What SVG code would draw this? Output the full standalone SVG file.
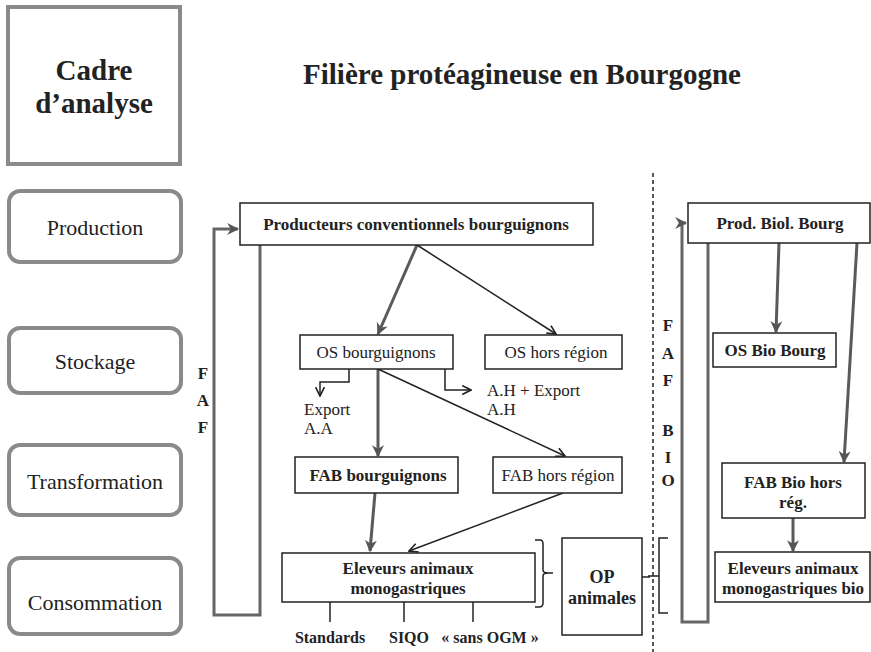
<svg xmlns="http://www.w3.org/2000/svg" width="871" height="652" viewBox="0 0 871 652">
<style>
.b{font-weight:bold}
.frame{fill:#fff;stroke:#8a8a8a;stroke-width:4}
.box{fill:#fff;stroke:#222;stroke-width:1.5}
.thick{stroke:#5a5a5a;stroke-width:3;fill:none}
.thin{stroke:#222;stroke-width:1.5;fill:none}
.loop{stroke:#666;stroke-width:3;fill:none}
.c{text-anchor:middle}
.t{font-family:'Liberation Serif',serif;fill:#222}
</style>
<defs>
<marker id="ag" viewBox="0 0 10 10" refX="9" refY="5" markerWidth="12" markerHeight="12" markerUnits="userSpaceOnUse" orient="auto">
<path d="M0,0 L10,5 L0,10 L3,5 z" fill="#555"/>
</marker>
<marker id="ao" viewBox="0 0 10 10" refX="9" refY="5" markerWidth="11" markerHeight="11" markerUnits="userSpaceOnUse" orient="auto">
<path d="M1,1 L9,5 L1,9" fill="none" stroke="#222" stroke-width="1.5"/>
</marker>
</defs>

<g id="cadre" class="t" font-family="Liberation Serif, serif">
<rect class="frame" x="8" y="7" width="172" height="157"/>
<text class="b c" x="94" y="80" font-size="29">Cadre</text>
<text class="b c" x="94" y="113" font-size="29">d’analyse</text>
</g>
<g id="title" class="t" font-family="Liberation Serif, serif">
<text class="b c" x="522" y="84" font-size="29">Filière protéagineuse en Bourgogne</text>
</g>

<g id="stage-production" class="t" font-family="Liberation Serif, serif">
<rect class="frame" x="9" y="191" width="172" height="71" rx="11"/>
<text class="c" x="95" y="235" font-size="22">Production</text>
</g>
<g id="stage-stockage" class="t" font-family="Liberation Serif, serif">
<rect class="frame" x="9" y="328" width="172" height="65" rx="11"/>
<text class="c" x="95" y="369" font-size="22">Stockage</text>
</g>
<g id="stage-transformation" class="t" font-family="Liberation Serif, serif">
<rect class="frame" x="9" y="445" width="172" height="70" rx="11"/>
<text class="c" x="95" y="489" font-size="22">Transformation</text>
</g>
<g id="stage-consommation" class="t" font-family="Liberation Serif, serif">
<rect class="frame" x="9" y="558" width="172" height="76" rx="11"/>
<text class="c" x="95" y="610" font-size="22">Consommation</text>
</g>

<g id="connectors">
<path class="loop" d="M260,245 V615 H214 V229 H238" marker-end="url(#ag)"/>
<path class="loop" d="M708,243 V622 H682 V223 H686" marker-end="url(#ag)"/>
<line x1="653" y1="173" x2="653" y2="652" stroke="#222" stroke-width="1.5" stroke-dasharray="4,3"/>
<line class="thick" x1="417" y1="245" x2="378" y2="334" marker-end="url(#ag)"/>
<line class="thin" x1="417" y1="245" x2="556" y2="334" marker-end="url(#ao)"/>
<path class="thin" d="M349,369 V382 H320 V396" marker-end="url(#ao)"/>
<path class="thin" d="M445,369 V390 H471" marker-end="url(#ao)"/>
<line class="thick" x1="378" y1="369" x2="378" y2="456" marker-end="url(#ag)"/>
<line class="thin" x1="378" y1="369" x2="565" y2="456" marker-end="url(#ao)"/>
<line class="thick" x1="375" y1="493" x2="370" y2="551" marker-end="url(#ag)"/>
<line class="thin" x1="563" y1="493" x2="409" y2="551" marker-end="url(#ao)"/>
<line class="thin" x1="330" y1="602" x2="330" y2="622"/>
<line class="thin" x1="404" y1="602" x2="404" y2="622"/>
<line class="thin" x1="473" y1="602" x2="473" y2="622"/>
<path class="thin" d="M535,540 H540 Q543,540 543,544 V570 Q543,573 548,573 H553 M548,573 Q543,573 543,576 V603 Q543,607 539,607 H535"/>
<line class="thin" x1="642" y1="577" x2="650" y2="577"/>
<path class="thin" d="M668,538 H659 V613 H668 M659,576 H648"/>
<line class="thick" x1="779" y1="243" x2="776" y2="332" marker-end="url(#ag)"/>
<line class="thick" x1="857" y1="243" x2="844" y2="462" marker-end="url(#ag)"/>
<line class="thick" x1="793" y1="518" x2="793" y2="551" marker-end="url(#ag)"/>
</g>

<g id="faf-label" class="t" font-family="Liberation Serif, serif">
<text class="b c" x="203" y="379" font-size="17">F</text>
<text class="b c" x="203" y="406" font-size="17">A</text>
<text class="b c" x="203" y="433" font-size="17">F</text>
</g>
<g id="fafbio-label" class="t" font-family="Liberation Serif, serif">
<text class="b c" x="668" y="331" font-size="17">F</text>
<text class="b c" x="668" y="359" font-size="17">A</text>
<text class="b c" x="668" y="386" font-size="17">F</text>
<text class="b c" x="668" y="436" font-size="17">B</text>
<text class="b c" x="668" y="463" font-size="17">I</text>
<text class="b c" x="668" y="486" font-size="17">O</text>
</g>

<g id="producteurs" class="t" font-family="Liberation Serif, serif">
<rect class="box" x="240" y="203" width="353" height="42"/>
<text class="b c" x="416" y="230" font-size="17">Producteurs conventionnels bourguignons</text>
</g>
<g id="os-bourguignons" class="t" font-family="Liberation Serif, serif">
<rect class="box" x="300" y="335" width="153" height="34"/>
<text class="c" x="376" y="358" font-size="17">OS bourguignons</text>
</g>
<g id="os-hors-region" class="t" font-family="Liberation Serif, serif">
<rect class="box" x="485" y="335" width="137" height="34"/>
<text class="c" x="556" y="358" font-size="17">OS hors région</text>
</g>
<g id="export-aa" class="t" font-family="Liberation Serif, serif">
<text x="304" y="415" font-size="17">Export</text>
<text x="304" y="434" font-size="17">A.A</text>
</g>
<g id="export-ah" class="t" font-family="Liberation Serif, serif">
<text x="487" y="396" font-size="17">A.H + Export</text>
<text x="487" y="415" font-size="17">A.H</text>
</g>
<g id="fab-bourguignons" class="t" font-family="Liberation Serif, serif">
<rect class="box" x="295" y="457" width="163" height="36"/>
<text class="b c" x="378" y="481" font-size="17">FAB bourguignons</text>
</g>
<g id="fab-hors-region" class="t" font-family="Liberation Serif, serif">
<rect class="box" x="493" y="457" width="129" height="36"/>
<text class="c" x="558" y="481" font-size="17">FAB hors région</text>
</g>
<g id="eleveurs" class="t" font-family="Liberation Serif, serif">
<rect class="box" x="282" y="553" width="253" height="49"/>
<text class="b c" x="408" y="574" font-size="17">Eleveurs animaux</text>
<text class="b c" x="408" y="594" font-size="17">monogastriques</text>
</g>
<g id="categories" class="t" font-family="Liberation Serif, serif">
<text class="b c" x="330" y="643" font-size="16">Standards</text>
<text class="b c" x="409" y="643" font-size="16">SIQO</text>
<text class="b c" x="490" y="643" font-size="16">« sans OGM »</text>
</g>
<g id="op-animales" class="t" font-family="Liberation Serif, serif">
<rect class="box" x="562" y="538" width="80" height="97"/>
<text class="b c" x="602" y="583" font-size="18">OP</text>
<text class="b c" x="602" y="604" font-size="18">animales</text>
</g>
<g id="prod-bio" class="t" font-family="Liberation Serif, serif">
<rect class="box" x="688" y="203" width="182" height="40"/>
<text class="b c" x="780" y="229" font-size="17">Prod. Biol. Bourg</text>
</g>
<g id="os-bio" class="t" font-family="Liberation Serif, serif">
<rect class="box" x="713" y="333" width="123" height="34"/>
<text class="b c" x="775" y="356" font-size="17">OS Bio Bourg</text>
</g>
<g id="fab-bio" class="t" font-family="Liberation Serif, serif">
<rect class="box" x="722" y="463" width="143" height="55"/>
<text class="b c" x="793" y="488" font-size="17">FAB Bio hors</text>
<text class="b c" x="793" y="508" font-size="17">rég.</text>
</g>
<g id="eleveurs-bio" class="t" font-family="Liberation Serif, serif">
<rect class="box" x="715" y="552" width="155" height="50"/>
<text class="b c" x="793" y="574" font-size="17">Eleveurs animaux</text>
<text class="b c" x="793" y="594" font-size="17">monogastriques bio</text>
</g>
</svg>
